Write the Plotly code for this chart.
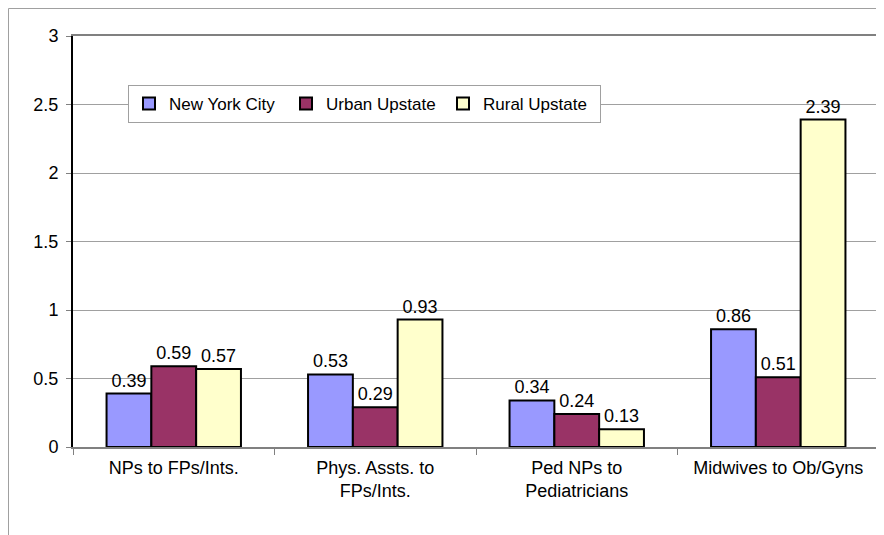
import plotly.graph_objects as go

categories = ["NPs to FPs/Ints.", "Phys. Assts. to<br>FPs/Ints.", "Ped NPs to<br>Pediatricians", "Midwives to Ob/Gyns"]
series_names = ["New York City", "Urban Upstate", "Rural Upstate"]
nyc = [0.39, 0.53, 0.34, 0.86]
urban = [0.59, 0.29, 0.24, 0.51]
rural = [0.57, 0.93, 0.13, 2.39]
colors = ["#9999FF", "#993366", "#FFFFCC"]
y_ticks = [0, 0.5, 1, 1.5, 2, 2.5, 3]
y_tick_labels = ["0", "0.5", "1", "1.5", "2", "2.5", "3"]

FONT = "Liberation Sans, Arial, sans-serif"

# page has an 8px body margin; figure is sized to fit the window
W, H = 876, 527
L, R, T, B = 65, 5, 28, 88
PW, PH = W - L - R, H - T - B

fig = go.Figure()
for name, vals, col in zip(series_names, [nyc, urban, rural], colors):
    fig.add_trace(go.Bar(
        name=name, x=categories, y=vals,
        marker=dict(color=col, line=dict(color="black", width=2)),
        text=[f"{v:.2f}" for v in vals], textposition="outside",
        textfont=dict(family=FONT, size=18, color="black"),
        cliponaxis=False,
    ))

fig.update_layout(
    width=W, height=H,
    margin=dict(l=L, r=R, t=T, b=B, autoexpand=False),
    paper_bgcolor="white", plot_bgcolor="white",
    barmode="group", bargap=0.333, bargroupgap=0,
    font=dict(family=FONT, size=18, color="black"),
    showlegend=True,
    legend=dict(
        orientation="h", x=(128 - 8 - L) / PW, y=(T + PH - (85 - 8)) / PH,
        xanchor="left", yanchor="top",
        bgcolor="white", bordercolor="#A0A0A0", borderwidth=1,
        font=dict(family=FONT, size=17, color="black"),
        entrywidth=112, entrywidthmode="pixels",
    ),
)
fig.update_xaxes(
    showline=True, linecolor="#808080", linewidth=2, mirror=True,
    ticks="outside", tickson="boundaries", ticklen=6, tickcolor="#808080",
    showgrid=False, tickfont=dict(family=FONT, size=18), ticklabelstandoff=3,
)
fig.update_yaxes(
    range=[0, 3], tickvals=y_ticks, ticktext=y_tick_labels,
    showline=True, linecolor="black", linewidth=2,
    ticks="outside", ticklen=5, tickcolor="#808080",
    showgrid=True, gridcolor="#A0A0A0", gridwidth=1,
    zeroline=False, tickfont=dict(family=FONT, size=18), ticklabelstandoff=4,
)
# right border of plot area
fig.add_shape(type="line", xref="paper", yref="paper", x0=1, x1=1, y0=0, y1=1,
              line=dict(color="#808080", width=2))
# outer chart border (top and left)
xl = (0.5 - L) / PW
yt = (T + PH - 0.5) / PH
fig.add_shape(type="line", xref="paper", yref="paper", x0=xl, x1=(W - L) / PW, y0=yt, y1=yt,
              line=dict(color="#A0A0A0", width=1))
fig.add_shape(type="line", xref="paper", yref="paper", x0=xl, x1=xl, y0=yt, y1=-B / PH,
              line=dict(color="#A0A0A0", width=1))

fig.write_html("out.html")
